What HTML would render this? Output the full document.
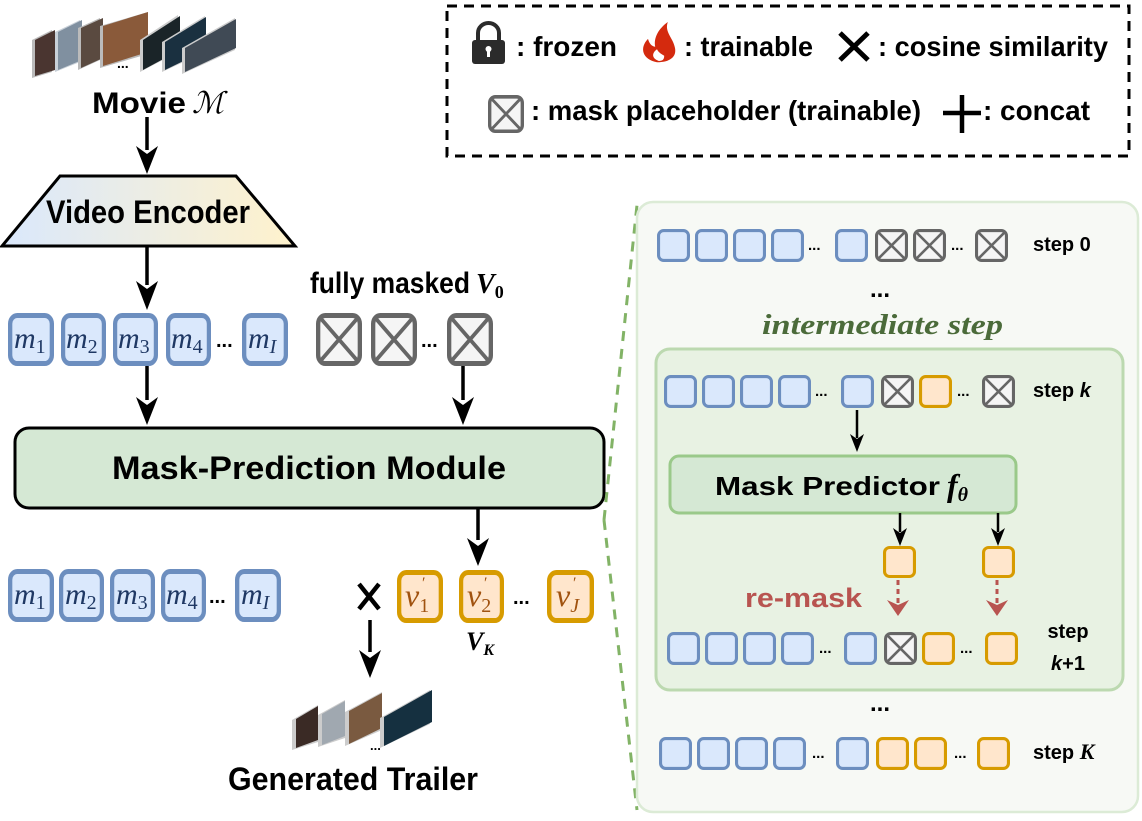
<!DOCTYPE html>
<html><head><meta charset="utf-8"><style>body{margin:0;background:#fff}svg{display:block}
.b{font-family:"Liberation Sans",sans-serif;font-weight:bold}
.m{font-family:"Liberation Serif",serif;font-style:italic;fill:#1f3864}
.o{font-family:"Liberation Serif",serif;font-style:italic;fill:#a0520f}
</style></head><body>
<svg width="1142" height="821" viewBox="0 0 1142 821" xmlns="http://www.w3.org/2000/svg">
<defs>
<linearGradient id="enc" x1="0" x2="1"><stop offset="0" stop-color="#dae8fc"/><stop offset="1" stop-color="#fff2cc"/></linearGradient>
<symbol id="blue" viewBox="0 0 32 32" preserveAspectRatio="none"><rect x="1.5" y="1.5" width="29" height="29" rx="5" fill="#dae8fc" stroke="#6c8ebf" stroke-width="3"/></symbol>
<symbol id="org" viewBox="0 0 32 32" preserveAspectRatio="none"><rect x="1.5" y="1.5" width="29" height="29" rx="5" fill="#ffe6cc" stroke="#d79b00" stroke-width="3"/></symbol>
<symbol id="msk" viewBox="0 0 32 32" preserveAspectRatio="none"><rect x="1.5" y="1.5" width="29" height="29" rx="5" fill="#f5f5f5" stroke="#666" stroke-width="3"/><path d="M3,3 L29,29 M29,3 L3,29" stroke="#666" stroke-width="2.5"/></symbol>
</defs>

<!-- legend -->
<rect x="447" y="6" width="682" height="150" fill="none" stroke="#000" stroke-width="3" stroke-dasharray="10,7"/>
<rect x="472" y="40" width="33" height="24" rx="3" fill="#2b2b2b"/>
<path d="M478,41 V33 a10.5,10 0 0 1 21,0 V41" fill="none" stroke="#2b2b2b" stroke-width="4"/>
<circle cx="488.5" cy="49" r="3" fill="#fff"/><rect x="487" y="49" width="3" height="8" fill="#fff"/>
<text x="516" y="56" class="b" font-size="28" textLength="101" lengthAdjust="spacingAndGlyphs">: frozen</text>
<g transform="translate(639,22) scale(1.8,1.3)">
<path d="M10,31 C2,29 0,20 5,13 C6,18 8,19 9,19 C8,12 11,5 16,0 C14,8 19,12 20,20 C21,27 17,31 10,31 Z" fill="#d42a0e"/>
<path d="M11,30 C7,28 7,24 10,21 C11,24 13,25 14,26 C14,29 13,30 11,30 Z" fill="#fff"/>
</g>
<text x="684" y="56" class="b" font-size="28" textLength="129" lengthAdjust="spacingAndGlyphs">: trainable</text>
<path d="M840,33 L868,60 M868,33 L840,60" stroke="#000" stroke-width="5"/>
<text x="878" y="56" class="b" font-size="28" textLength="230" lengthAdjust="spacingAndGlyphs">: cosine similarity</text>
<use href="#msk" x="488" y="95" width="36" height="38"/>
<text x="531" y="120" class="b" font-size="28" textLength="390" lengthAdjust="spacingAndGlyphs">: mask placeholder (trainable)</text>
<path d="M943,113 H981 M962,95 V133" stroke="#000" stroke-width="4.5"/>
<text x="983" y="120" class="b" font-size="28" textLength="107" lengthAdjust="spacingAndGlyphs">: concat</text>

<!-- movie frames -->
<g>
<polygon points="32,40 52,30 52,72 32,78" fill="#bbb"/><polygon points="35,40 55,30 55,70 35,76" fill="#4a3530"/>
<polygon points="55,32 80,20 80,62 55,72" fill="#c8d0d8"/><polygon points="58,32 82,20 82,60 58,70" fill="#8090a0"/>
<polygon points="78,28 100,18 100,60 78,70" fill="#bbb"/><polygon points="81,28 103,18 103,58 81,68" fill="#5a4a40"/>
<polygon points="100,26 148,12 148,54 100,68" fill="#bbb"/><polygon points="103,26 148,12 148,52 103,66" fill="#8a5a3a"/>
<polygon points="140,40 178,15 178,52 140,72" fill="#ccc"/><polygon points="143,40 180,16 180,50 143,70" fill="#1a2428"/>
<polygon points="162,42 205,16 205,52 162,72" fill="#ccc"/><polygon points="165,42 206,17 206,50 165,70" fill="#1a3040"/>
<polygon points="182,48 235,18 235,50 182,74" fill="#ccc"/><polygon points="185,48 236,19 236,48 185,72" fill="#404a55"/>
<text x="117" y="68" class="b" font-size="14">...</text>
</g>
<text x="92" y="113" class="b" font-size="30" textLength="94" lengthAdjust="spacingAndGlyphs">Movie</text>
<text x="192" y="113" font-family="Liberation Serif,serif" font-style="italic" font-size="30">ℳ</text>
<path d="M147,117 V150" stroke="#000" stroke-width="3.5"/><path d="M136,146 L147,174 L158,146 L147,154 Z"/>

<!-- encoder -->
<polygon points="60,176 236,176 295,246 2,246" fill="url(#enc)" stroke="#000" stroke-width="3"/>
<text x="46" y="223" class="b" font-size="32" textLength="204" lengthAdjust="spacingAndGlyphs">Video Encoder</text>
<path d="M147,246 V285" stroke="#000" stroke-width="3.5"/><path d="M136,281 L147,310 L158,281 L147,289 Z"/>

<!-- m tokens row1 -->
<use href="#blue" x="8" y="313" width="46" height="53"/>
<use href="#blue" x="61" y="313" width="45" height="53"/>
<use href="#blue" x="113" y="313" width="45" height="53"/>
<use href="#blue" x="166" y="313" width="45" height="53"/>
<use href="#blue" x="242" y="313" width="46" height="53"/>
<g font-size="30">
<text x="14" y="348" class="m">m<tspan font-size="20" font-style="normal" dy="5">1</tspan></text>
<text x="66" y="348" class="m">m<tspan font-size="20" font-style="normal" dy="5">2</tspan></text>
<text x="118" y="348" class="m">m<tspan font-size="20" font-style="normal" dy="5">3</tspan></text>
<text x="171" y="348" class="m">m<tspan font-size="20" font-style="normal" dy="5">4</tspan></text>
<text x="248" y="348" class="m">m<tspan font-size="20" dy="5">I</tspan></text>
</g>
<text x="216" y="347" class="b" font-size="20">...</text>
<text x="310" y="293" class="b" font-size="30" textLength="160" lengthAdjust="spacingAndGlyphs">fully masked</text>
<text x="476" y="293" font-family="Liberation Serif,serif" font-style="italic" font-weight="bold" font-size="28">V<tspan font-size="18" font-style="normal" dy="5">0</tspan></text>
<use href="#msk" x="316" y="313" width="46" height="53"/>
<use href="#msk" x="371" y="313" width="46" height="53"/>
<use href="#msk" x="447" y="313" width="46" height="53"/>
<text x="421" y="347" class="b" font-size="20">...</text>
<path d="M147,366 V400" stroke="#000" stroke-width="3.5"/><path d="M136,397 L147,425 L158,397 L147,405 Z"/>
<path d="M463,366 V400" stroke="#000" stroke-width="3.5"/><path d="M452,397 L463,425 L474,397 L463,405 Z"/>

<!-- module -->
<rect x="15" y="428" width="589" height="80" rx="14" fill="#d5e8d4" stroke="#000" stroke-width="3"/>
<text x="112" y="479" class="b" font-size="32" textLength="394" lengthAdjust="spacingAndGlyphs">Mask-Prediction Module</text>
<path d="M478,508 V540" stroke="#000" stroke-width="3.5"/><path d="M467,538 L478,566 L489,538 L478,546 Z"/>

<!-- bottom row -->
<use href="#blue" x="8" y="569" width="46" height="53"/>
<use href="#blue" x="59" y="569" width="45" height="53"/>
<use href="#blue" x="110" y="569" width="45" height="53"/>
<use href="#blue" x="161" y="569" width="45" height="53"/>
<use href="#blue" x="235" y="569" width="46" height="53"/>
<g font-size="30">
<text x="14" y="604" class="m">m<tspan font-size="20" font-style="normal" dy="5">1</tspan></text>
<text x="65" y="604" class="m">m<tspan font-size="20" font-style="normal" dy="5">2</tspan></text>
<text x="116" y="604" class="m">m<tspan font-size="20" font-style="normal" dy="5">3</tspan></text>
<text x="166" y="604" class="m">m<tspan font-size="20" font-style="normal" dy="5">4</tspan></text>
<text x="241" y="604" class="m">m<tspan font-size="20" dy="5">I</tspan></text>
</g>
<text x="209" y="603" class="b" font-size="20">...</text>
<path d="M359,584 L379,609 M379,584 L359,609" stroke="#000" stroke-width="4.5"/>
<use href="#org" x="397" y="570" width="46" height="53"/>
<use href="#org" x="459" y="570" width="45" height="53"/>
<use href="#org" x="547" y="570" width="47" height="53"/>
<g font-size="32">
<text x="405" y="606" class="o">v<tspan font-size="20" font-style="normal" dy="6">1</tspan></text>
<text x="467" y="606" class="o">v<tspan font-size="20" font-style="normal" dy="6">2</tspan></text>
<text x="556" y="606" class="o">v<tspan font-size="20" dy="6">J</tspan></text>
<text x="421" y="588" class="o" font-size="16">′</text><text x="483" y="588" class="o" font-size="16">′</text><text x="572" y="588" class="o" font-size="16">′</text>
</g>
<text x="513" y="604" class="b" font-size="20">...</text>
<text x="466" y="650" font-family="Liberation Serif,serif" font-style="italic" font-weight="bold" font-size="26">V<tspan font-size="16" dy="5">K</tspan></text>
<path d="M370,620 V652" stroke="#000" stroke-width="3.5"/><path d="M359,650 L370,678 L381,650 L370,658 Z"/>

<!-- trailer frames -->
<g>
<polygon points="292,720 318,705 318,742 292,750" fill="#ccc"/><polygon points="296,719 318,706 318,740 296,748" fill="#3a2a25"/>
<polygon points="318,715 345,700 345,738 318,747" fill="#ccc"/><polygon points="322,714 345,701 345,736 322,745" fill="#a0a8b0"/>
<polygon points="345,712 382,692 382,730 345,746" fill="#ccc"/><polygon points="349,711 382,693 382,728 349,744" fill="#7a5a40"/>
<polygon points="380,718 430,690 430,724 380,748" fill="#ccc"/><polygon points="384,717 432,690 432,722 384,746" fill="#153040"/>
<text x="370" y="750" class="b" font-size="13">...</text>
</g>
<text x="228" y="790" class="b" font-size="32" textLength="250" lengthAdjust="spacingAndGlyphs">Generated Trailer</text>

<!-- dashed connectors -->
<path d="M604,520 L637,205" stroke="#82b366" stroke-width="3" stroke-dasharray="10,8" fill="none"/>
<path d="M604,520 L637,810" stroke="#82b366" stroke-width="3" stroke-dasharray="10,8" fill="none"/>

<!-- right panel -->
<rect x="637" y="202" width="501" height="610" rx="16" fill="#f7f9f5" stroke="#dcebd6" stroke-width="2.5"/>
<use href="#blue" x="657" y="229" width="33" height="33"/>
<use href="#blue" x="695" y="229" width="33" height="33"/>
<use href="#blue" x="733" y="229" width="33" height="33"/>
<use href="#blue" x="771" y="229" width="33" height="33"/>
<use href="#blue" x="835" y="229" width="33" height="33"/>
<use href="#msk" x="875" y="229" width="33" height="33"/>
<use href="#msk" x="913" y="229" width="33" height="33"/>
<use href="#msk" x="975" y="229" width="33" height="33"/>
<text x="808" y="250" class="b" font-size="15">...</text>
<text x="951" y="250" class="b" font-size="15">...</text>
<text x="1033" y="251" class="b" font-size="20">step 0</text>
<text x="880" y="297" class="b" font-size="24" text-anchor="middle">...</text>
<text x="762" y="334" font-family="Liberation Serif,serif" font-style="italic" font-weight="bold" font-size="28" fill="#4b6b3a" textLength="241" lengthAdjust="spacingAndGlyphs">intermediate step</text>

<rect x="656" y="349" width="467" height="341" rx="14" fill="#e8f2e3" stroke="#bcd9b0" stroke-width="3"/>
<use href="#blue" x="664" y="375" width="33" height="33"/>
<use href="#blue" x="702" y="375" width="33" height="33"/>
<use href="#blue" x="740" y="375" width="33" height="33"/>
<use href="#blue" x="778" y="375" width="33" height="33"/>
<use href="#blue" x="841" y="375" width="33" height="33"/>
<use href="#msk" x="881" y="375" width="33" height="33"/>
<use href="#org" x="919" y="375" width="33" height="33"/>
<use href="#msk" x="982" y="375" width="33" height="33"/>
<text x="815" y="396" class="b" font-size="15">...</text>
<text x="957" y="396" class="b" font-size="15">...</text>
<text x="1033" y="397" class="b" font-size="20">step <tspan font-style="italic">k</tspan></text>
<path d="M857,410 V438" stroke="#000" stroke-width="2.5"/><path d="M850,434 L857,452 L864,434 L857,439 Z"/>

<rect x="670" y="456" width="346" height="57" rx="9" fill="#d5e8d4" stroke="#9ac98a" stroke-width="3"/>
<text x="715" y="495" class="b" font-size="26" textLength="225" lengthAdjust="spacingAndGlyphs">Mask Predictor</text>
<text x="947" y="496" font-family="Liberation Serif,serif" font-style="italic" font-weight="bold" font-size="32">f<tspan font-size="20" dy="5">θ</tspan></text>
<path d="M900,513 V532" stroke="#000" stroke-width="2.5"/><path d="M893,528 L900,546 L907,528 L900,533 Z"/>
<path d="M998,513 V532" stroke="#000" stroke-width="2.5"/><path d="M991,528 L998,546 L1005,528 L998,533 Z"/>
<use href="#org" x="883" y="546" width="33" height="32"/>
<use href="#org" x="982" y="546" width="33" height="32"/>
<path d="M898,580 V603 M997,580 V603" stroke="#b85450" stroke-width="3" stroke-dasharray="5,4"/>
<path d="M887,600 L898,616 L909,600 L898,605 Z M986,600 L997,616 L1008,600 L997,605 Z" fill="#b85450"/>
<text x="745" y="607" class="b" font-size="27" fill="#b85450" textLength="117" lengthAdjust="spacingAndGlyphs">re-mask</text>

<use href="#blue" x="667" y="632" width="33" height="33"/>
<use href="#blue" x="705" y="632" width="33" height="33"/>
<use href="#blue" x="743" y="632" width="33" height="33"/>
<use href="#blue" x="781" y="632" width="33" height="33"/>
<use href="#blue" x="844" y="632" width="33" height="33"/>
<use href="#msk" x="884" y="632" width="33" height="33"/>
<use href="#org" x="922" y="632" width="33" height="33"/>
<use href="#org" x="985" y="632" width="33" height="33"/>
<text x="819" y="653" class="b" font-size="15">...</text>
<text x="960" y="653" class="b" font-size="15">...</text>
<text x="1068" y="638" class="b" font-size="20" text-anchor="middle">step</text>
<text x="1068" y="670" class="b" font-size="20" text-anchor="middle"><tspan font-style="italic">k</tspan>+1</text>

<text x="880" y="711" class="b" font-size="24" text-anchor="middle">...</text>
<use href="#blue" x="659" y="737" width="33" height="33"/>
<use href="#blue" x="697" y="737" width="33" height="33"/>
<use href="#blue" x="735" y="737" width="33" height="33"/>
<use href="#blue" x="773" y="737" width="33" height="33"/>
<use href="#blue" x="836" y="737" width="33" height="33"/>
<use href="#org" x="876" y="737" width="33" height="33"/>
<use href="#org" x="914" y="737" width="33" height="33"/>
<use href="#org" x="977" y="737" width="33" height="33"/>
<text x="812" y="758" class="b" font-size="15">...</text>
<text x="954" y="758" class="b" font-size="15">...</text>
<text x="1033" y="759" class="b" font-size="20">step <tspan font-family="Liberation Serif,serif" font-style="italic" font-size="22">K</tspan></text>
</svg>
</body></html>
